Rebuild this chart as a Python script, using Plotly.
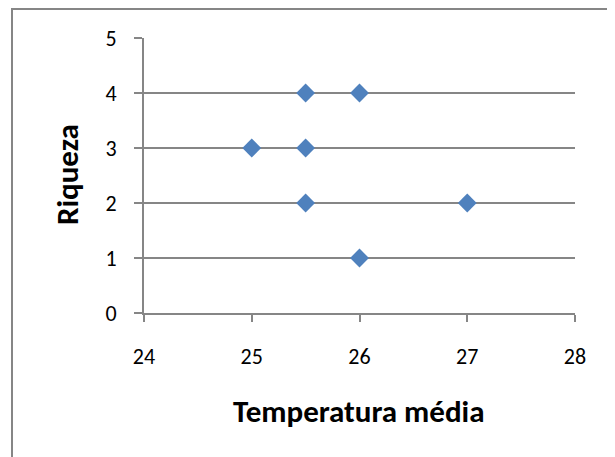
import plotly.graph_objects as go

temperatura = [25, 25.5, 26, 25.5, 25.5, 27, 26]
riqueza = [3, 4, 4, 3, 2, 2, 1]
x_ticks = [24, 25, 26, 27, 28]
y_ticks = [0, 1, 2, 3, 4, 5]

FONT = "Calibri, Carlito, Lato, sans-serif"
GRAY = "#868686"

fig = go.Figure()
fig.add_trace(go.Scatter(
    x=temperatura, y=riqueza, mode="markers",
    marker=dict(symbol="diamond", size=14.5, color="#4F81BD", line=dict(width=0)),
    showlegend=False, hoverinfo="skip"))

# page body has an 8px margin; target positions are in window pixels
OFF = 8
W, H = 615, 457
L, R, T, B = 144 - OFF, 575 - OFF, 38 - OFF, 313 - OFF
pw, ph = R - L, B - T

def px(x):
    return (x - OFF - L) / pw

def py(y):
    return (B - (y - OFF)) / ph

fig.update_layout(
    width=W, height=H,
    margin=dict(l=L, r=W - R, t=T, b=H - B, pad=0),
    paper_bgcolor="white", plot_bgcolor="white",
    font=dict(family=FONT, color="black"),
    xaxis=dict(range=[24, 28], tickvals=x_ticks, showgrid=False, zeroline=False,
               showline=True, linecolor=GRAY, linewidth=2,
               ticks="outside", ticklen=7, tickcolor=GRAY, tickwidth=2,
               tickfont=dict(size=22, family=FONT), ticklabelstandoff=16),
    yaxis=dict(range=[0, 5], tickvals=y_ticks, showgrid=True, gridcolor=GRAY, gridwidth=2,
               zeroline=False, showline=True, linecolor=GRAY, linewidth=2,
               ticks="outside", ticklen=8, tickcolor=GRAY, tickwidth=2,
               tickfont=dict(size=22, family=FONT), ticklabelstandoff=13),
    shapes=[dict(type="rect", xref="paper", yref="paper",
                 x0=px(12), x1=px(660), y0=py(500), y1=py(9),
                 line=dict(color=GRAY, width=2), layer="below")],
    annotations=[
        dict(text="<b>Temperatura média</b>", xref="paper", yref="paper",
             x=px(358.5), y=py(411), xanchor="center", yanchor="middle",
             showarrow=False, font=dict(size=31, family=FONT)),
        dict(text="<b>Riqueza</b>", xref="paper", yref="paper",
             x=px(67), y=py(175), xanchor="center", yanchor="middle",
             showarrow=False, textangle=-90, font=dict(size=31, family=FONT)),
    ],
)

fig.write_html("out.html")
